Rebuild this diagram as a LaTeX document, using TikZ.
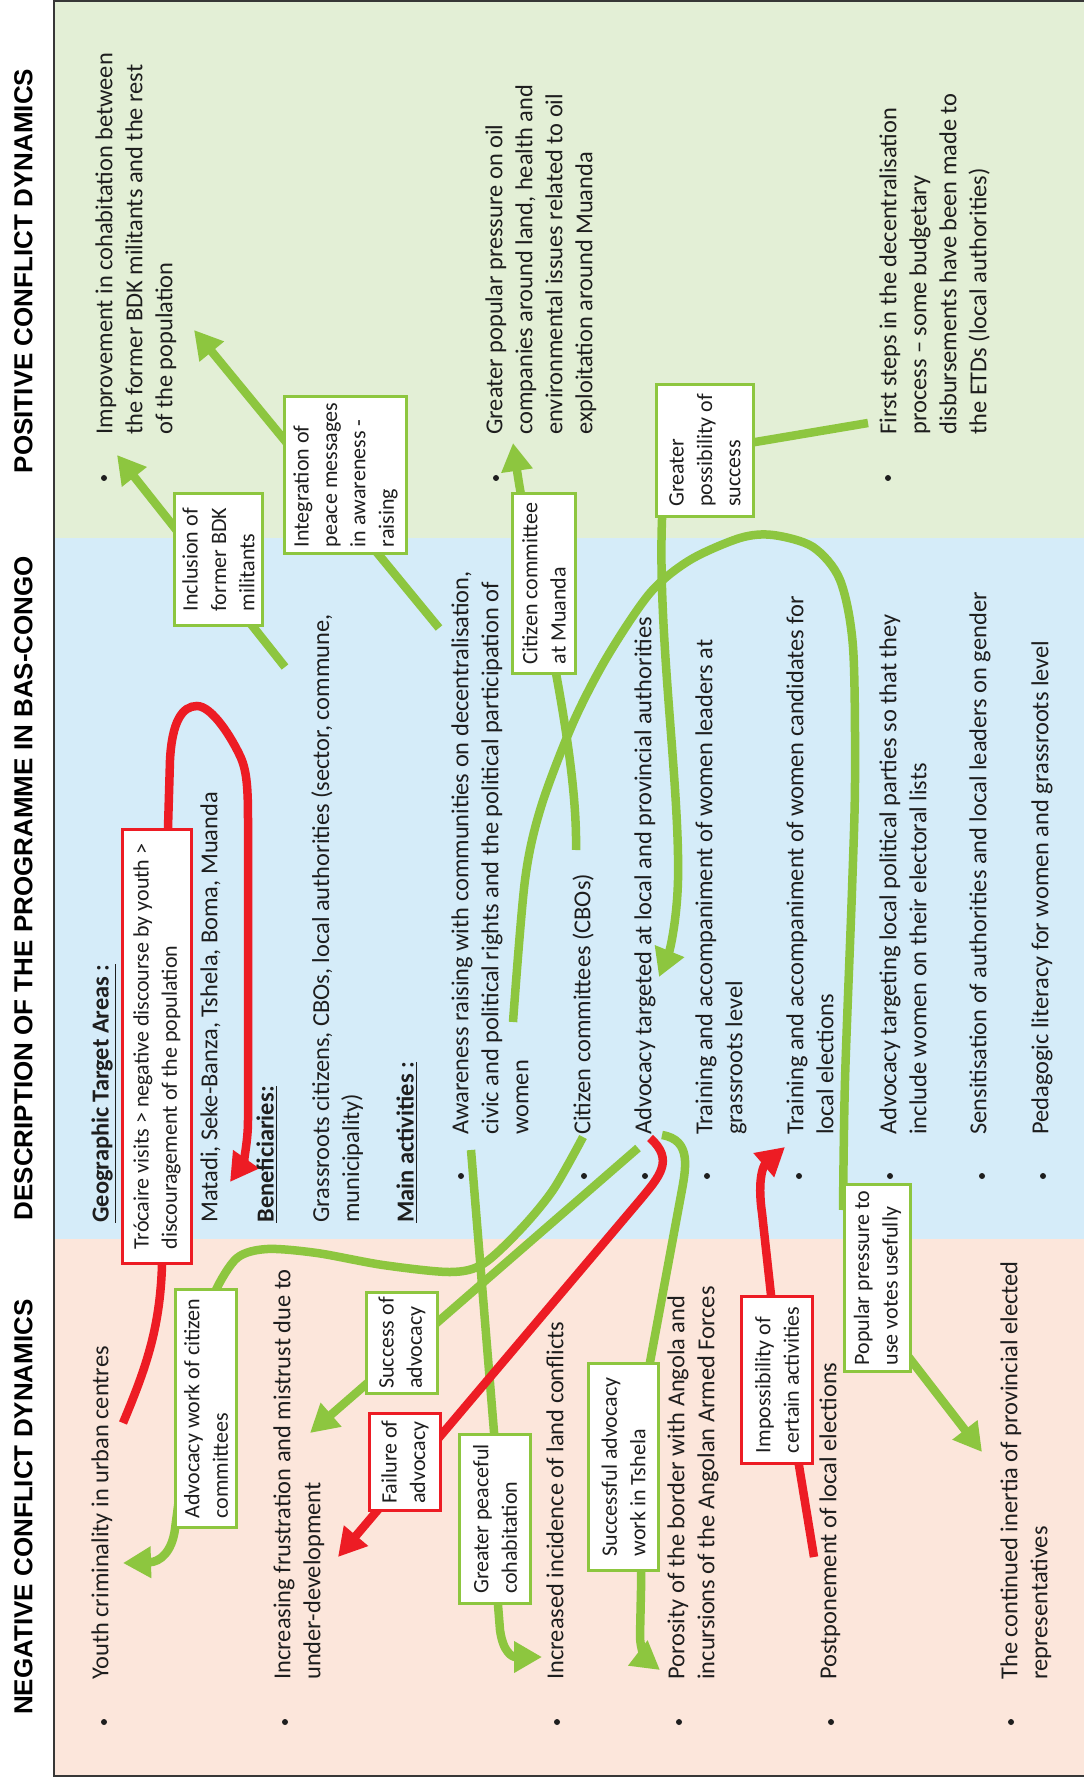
\documentclass[tikz,border=0pt]{standalone}
\usepackage{fontspec}
\setmainfont{Carlito}
\newfontfamily\headfont{Liberation Sans}
\usetikzlibrary{arrows.meta}
\definecolor{cgreen}{RGB}{141,198,63}
\definecolor{cred}{RGB}{237,28,36}
\definecolor{bandg}{RGB}{227,239,214}
\definecolor{bandb}{RGB}{213,236,249}
\definecolor{bandp}{RGB}{252,230,219}
\definecolor{framec}{RGB}{55,55,55}
\definecolor{txtc}{RGB}{30,30,30}
\pgfdeclarelayer{bands}
\pgfdeclarelayer{links}
\pgfsetlayers{bands,links,main}
\tikzset{
  bodytxt/.style={rotate=90, anchor=north west, align=left, inner sep=0pt, text=txtc, font=\fontsize{12.2}{15}\selectfont},
  headtxt/.style={rotate=90, inner sep=0pt, text=black, font=\headfont\bfseries\fontsize{13}{15}\selectfont},
  cbox/.style={rotate=90, draw=cgreen, line width=1.75pt, fill=white, align=left, inner sep=2pt, text=txtc, font=\fontsize{11}{14.2}\selectfont},
  rbox/.style={cbox, draw=cred},
  glink/.style={draw=cgreen, line width=4.25pt},
  rlink/.style={draw=cred, line width=4.25pt},
  tipA/.style={-{Triangle[length=14pt,width=15pt]}},
  dotb/.style={circle, fill=txtc, inner sep=0pt, minimum size=3pt},
}
\begin{document}
\begin{tikzpicture}[x=0.5pt, y=-0.5pt]
\useasboundingbox (0,0) rectangle (1083,1780);
\begin{pgfonlayer}{bands}
\fill[bandg] (54,0) rectangle (1090,538);
\fill[bandb] (54,538) rectangle (1090,1239);
\fill[bandp] (54,1239) rectangle (1090,1776);
\draw[framec, line width=1pt] (1090,1) -- (54,1) -- (54,1776) -- (1090,1776);
\end{pgfonlayer}

% headings
\node[headtxt] (hpos) at (23.5,271) {POSITIVE CONFLICT DYNAMICS};
\node[headtxt] (hdesc) at (23.5,888) {DESCRIPTION OF THE PROGRAMME IN BAS-CONGO};
\node[headtxt] (hneg) at (23.5,1507) {NEGATIVE CONFLICT DYNAMICS};

% positive dynamics
\node[bodytxt] (p1) at (95,435) {Improvement in cohabitation between\\the former BDK militants and the rest\\of the population};
\node[bodytxt] (p2) at (485,435) {Greater popular pressure on oil\\companies around land, health and\\environmental issues related to oil\\exploitation around Muanda};
\node[bodytxt] (p3) at (879,435) {First steps in the decentralisation\\process -- some budgetary\\disbursements have been made to\\the ETDs (local authorities)};
\node[dotb] (bp1) at (104,478) {};
\node[dotb] (bp2) at (496,478) {};
\node[dotb] (bp3) at (888,478) {};

% description
\node[bodytxt] (d1) at (91,1223) {\textbf{\underline{Geographic Target Areas :}}};
\node[bodytxt] (d2) at (200,1223) {Matadi, Seke-Banza, Tshela, Boma, Muanda};
\node[bodytxt] (d3) at (256,1223) {\textbf{\underline{Beneficiaries:}}};
\node[bodytxt] (d4) at (311,1223) {Grassroots citizens, CBOs, local authorities (sector, commune,\\municipality)};
\node[bodytxt] (d5) at (396,1223) {\textbf{\underline{Main activities :}}};

\node[bodytxt] (a1) at (451,1135) {Awareness raising with communities on decentralisation,\\civic and political rights and the political participation of\\women};
\node[bodytxt] (a2) at (572,1135) {Citizen committees (CBOs)};
\node[bodytxt] (a3) at (634,1135) {Advocacy targeted at local and provincial authorities};
\node[bodytxt] (a4) at (695,1135) {Training and accompaniment of women leaders at\\grassroots level};
\node[bodytxt] (a5) at (786,1135) {Training and accompaniment of women candidates for\\local elections};
\node[bodytxt] (a6) at (879,1135) {Advocacy targeting local political parties so that they\\include women on their electoral lists};
\node[bodytxt] (a7) at (969,1135) {Sensitisation of authorities and local leaders on gender};
\node[bodytxt] (a8) at (1031,1135) {Pedagogic literacy for women and grassroots level};
\foreach \n/\xx in {1/461,2/584,3/645,4/707,5/799,6/890,7/982,8/1043}
  \node[dotb] (ba\n) at (\xx,1176) {};

% negative dynamics
\node[bodytxt] (n1) at (91,1680) {Youth criminality in urban centres};
\node[bodytxt] (n2) at (273,1680) {Increasing frustration and mistrust due to\\under-development};
\node[bodytxt] (n3) at (546,1680) {Increased incidence of land conflicts};
\node[bodytxt] (n4) at (667,1680) {Porosity of the border with Angola and\\incursions of the Angolan Armed Forces};
\node[bodytxt] (n5) at (819,1680) {Postponement of local elections};
\node[bodytxt] (n6) at (1000,1680) {The continued inertia of provincial elected\\representatives};
\foreach \n/\xx in {1/104,2/285,3/557,4/679,5/831,6/1011}
  \node[dotb] (bn\n) at (\xx,1722) {};

% callout boxes
\node[cbox, minimum height=44pt, minimum width=66pt] (k1) at (218.5,559.5) {Inclusion of\\former BDK\\militants};
\node[cbox, minimum height=61pt, minimum width=78.5pt] (k2) at (345.5,475) {Integration of\\peace messages\\in awareness -\\raising};
\node[cbox, minimum height=31.5pt, minimum width=90pt] (k3) at (544,583.5) {Citizen committee\\at Muanda};
\node[cbox, minimum height=48.5pt, minimum width=66pt] (k4) at (705,450.5) {Greater\\possibility of\\success};
\node[cbox, minimum height=30.5pt, minimum width=119pt] (k5) at (206,1408.5) {Advocacy work of citizen\\committees};
\node[cbox, minimum height=33pt, minimum width=93.5pt] (k6) at (877.5,1278) {Popular pressure to\\use votes usefully};
\node[cbox, minimum height=35.5pt, minimum width=50.5pt] (k7) at (402,1343) {Success of\\advocacy};
\node[rbox, minimum height=35.5pt, minimum width=48.5pt] (k8) at (405,1462) {Failure of\\advocacy};
\node[cbox, minimum height=35.5pt, minimum width=84.5pt] (k9) at (495,1519) {Greater peaceful\\cohabitation};
\node[cbox, minimum height=35pt, minimum width=103.5pt] (k10) at (623.5,1467) {Successful advocacy\\work in Tshela};
\node[rbox, minimum height=35.5pt, minimum width=83.5pt] (k11) at (777,1380) {Impossibility of\\certain activities};
\node[rbox, minimum height=34.5pt, minimum width=217pt] (k12) at (157,1046.5) {Trócaire visits > negative discourse by youth >\\discouragement of the population};

% connectors
\begin{pgfonlayer}{links}
\coordinate (s1) at (285,667);  \coordinate (e1) at (117,455);
\draw[glink, tipA] (s1) -- (e1);
\coordinate (s2) at (439,628);  \coordinate (e2) at (194,330);
\draw[glink, tipA] (s2) -- (e2);
\coordinate (s3) at (576,850);  \coordinate (e3) at (513,443);
\draw[glink, tipA] (s3) .. controls (578,740) and (530,560) .. (e3);
\coordinate (s4) at (868,423);
\draw[glink] (s4) -- (k4.center);
\coordinate (e4) at (659,977);
\draw[glink, tipA] (663,500) .. controls (655,620) and (680,780) .. (678,880) .. controls (677,920) and (670,950) .. (e4);
\coordinate (s5) at (513,1022);
\draw[glink] plot[smooth] coordinates {(s5) (525,880) (541,807) (573,723) (607,657) (650,593) (690,560) (740,538) (773,535) (813,547) (840,580) (853,647) (855,780) (852,890) (845,1080) (843,1210)};
\coordinate (e6) at (982,1452);
\draw[glink, tipA] (880,1320) -- (e6);
\coordinate (s7) at (471,1150); \coordinate (e7) at (542,1657);
\draw[glink, tipA] (s7) -- (494,1432) -- (498,1605) -- (500,1630) .. controls (503,1652) and (512,1657) .. (e7);
\coordinate (s8) at (583,1137); \coordinate (e8) at (123,1563);
\draw[glink] plot[smooth] coordinates {(s8) (553,1190) (520,1230) (483,1264) (450,1272) (383,1265) (317,1253) (267,1249) (237,1258) (215,1292) (205,1330)};
\draw[glink, tipA] (200,1340) -- (175,1529) .. controls (172,1552) and (160,1562) .. (e8);
\coordinate (s9) at (638,1148); \coordinate (e9) at (310,1433);
\draw[glink, tipA] (s9) -- (e9);
\coordinate (s10) at (662,1135); \coordinate (e10) at (660,1670);
\draw[glink, tipA] (s10) .. controls (692,1140) and (686,1168) .. (681,1195) -- (643,1400) -- (641,1590) -- (640,1636) .. controls (640,1650) and (647,1660) .. (e10);
\coordinate (s11) at (650,1138); \coordinate (e11) at (338,1557);
\draw[rlink, tipA] (s11) .. controls (675,1160) and (659,1177) .. (640,1200) -- (e11);
\coordinate (s12) at (814,1557); \coordinate (e12) at (785,1147);
\draw[rlink, tipA] (s12) -- (771,1295) -- (762,1213) .. controls (757,1178) and (764,1165) .. (e12);
\coordinate (s13) at (123,1423); \coordinate (e13) at (230,1182);
\draw[rlink, tipA] (s13) .. controls (145,1370) and (160,1330) .. (162,1265) -- (168,828) -- (170,760) .. controls (172,722) and (182,706) .. (197,706) .. controls (212,706) and (232,738) .. (241,758) .. controls (247,772) and (248,790) .. (248,820) -- (248,1120) .. controls (248,1145) and (242,1165) .. (e13);
\end{pgfonlayer}
\end{tikzpicture}
\end{document}
